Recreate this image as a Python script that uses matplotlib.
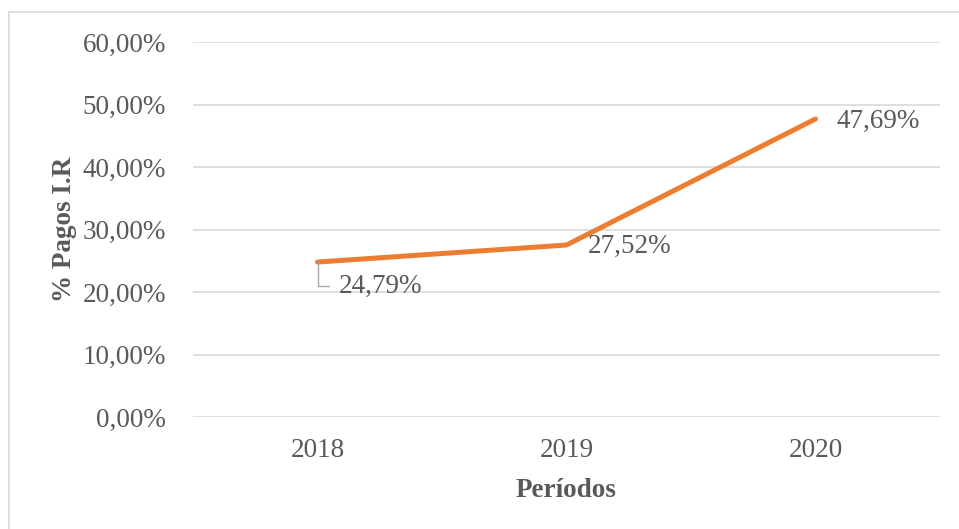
import matplotlib.pyplot as plt
from matplotlib.patches import Rectangle

# datos
periodos = ["2018", "2019", "2020"]
pagos_ir = [24.79, 27.52, 47.69]
etiquetas = ["24,79%", "27,52%", "47,69%"]
ticks_y = [0, 10, 20, 30, 40, 50, 60]

gris = "#595959"
naranja = "#ED7D31"
fs = 19.5

plt.rcParams['font.family'] = ['Liberation Serif', 'DejaVu Serif']

fig = plt.figure(figsize=(9.59, 5.29), dpi=100)
ax = fig.add_axes([193/959, 1-417/529, (940-193)/959, (417-42)/529])

x = list(range(len(periodos)))
ax.plot(x, pagos_ir, color=naranja, lw=3.6, solid_capstyle='round', zorder=3)

ax.set_xlim(-0.5, 2.5)
ax.set_ylim(0, 60)
ax.set_yticks(ticks_y)
ax.set_yticklabels([f"{v:.2f}".replace(".", ",") + "%" for v in ticks_y])
ax.set_xticks(x)
ax.set_xticklabels(periodos)
ax.tick_params(axis='both', length=0, labelsize=fs, colors=gris)
ax.tick_params(axis='y', pad=19.5)
ax.tick_params(axis='x', pad=15)
ax.grid(axis='y', color='#D9D9D9', lw=1.2)
ax.set_axisbelow(True)
for s in ax.spines.values():
    s.set_visible(False)

ax.set_xlabel("Períodos", fontsize=fs, fontweight='bold', color=gris, labelpad=11)
ax.set_ylabel("% Pagos I.R", fontsize=fs, fontweight='bold', color=gris, labelpad=4)

# etiquetas de datos
ax.annotate(etiquetas[0], xy=(x[0], pagos_ir[0]), xytext=(15, -17.5), textcoords='offset points',
            fontsize=fs, color=gris, ha='left', va='center',
            arrowprops=dict(arrowstyle='-', color='#A6A6A6', lw=1,
                            connectionstyle='angle,angleA=0,angleB=90,rad=0',
                            relpos=(0, 0.5), shrinkA=5, shrinkB=0))
ax.annotate(etiquetas[1], xy=(x[1], pagos_ir[1]), xytext=(15, -1), textcoords='offset points',
            fontsize=fs, color=gris, ha='left', va='center')
ax.annotate(etiquetas[2], xy=(x[2], pagos_ir[2]), xytext=(15, -1.5), textcoords='offset points',
            fontsize=fs, color=gris, ha='left', va='center')

# borde del grafico
fig.patches.append(Rectangle((9/959, -0.05), 1.2, 1 - 12/529 + 0.05, transform=fig.transFigure,
                             fill=False, edgecolor='#D9D9D9', lw=1.2))

fig.savefig("out.png", dpi=100)
